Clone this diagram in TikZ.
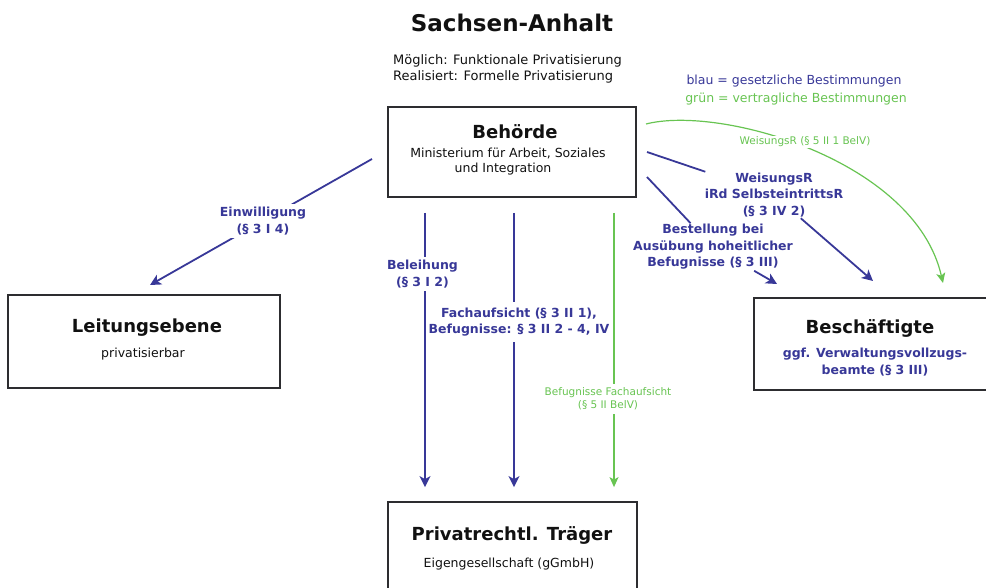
\documentclass[tikz,border=0pt]{standalone}
\usepackage{fontspec}
\setmainfont{DejaVu Sans}
\usetikzlibrary{arrows.meta}

\definecolor{lawblue}{RGB}{56,56,152}
\definecolor{contractgreen}{RGB}{104,196,82}
\definecolor{boxgray}{RGB}{45,45,48}
\definecolor{ink}{RGB}{17,17,17}

\tikzset{
  box/.style={draw=boxgray, line width=1.8pt, fill=white, inner sep=0pt},
  ttl/.style={font=\fontsize{18}{21}\selectfont\bfseries, text=ink, anchor=base, inner sep=0pt},
  sub/.style={font=\fontsize{12.5}{15}\selectfont, text=ink, anchor=base, inner sep=0pt},
  subblue/.style={font=\fontsize{12.5}{15}\selectfont\bfseries, text=lawblue, anchor=base, inner sep=0pt},
  bl/.style={draw=lawblue, line width=1.8pt},
  gr/.style={draw=contractgreen, line width=1.2pt},
  tipb/.style={-{Stealth[length=11pt,width=11pt,inset=3pt]}},
  tipg/.style={-{Stealth[length=10pt,width=9pt,inset=2.5pt]}},
  lblb/.style={text=lawblue, font=\fontsize{12.5}{16.5}\selectfont\bfseries,
    align=center, fill=white, inner xsep=1pt, inner ysep=3pt},
  lblg/.style={text=contractgreen, font=\fontsize{10.5}{13}\selectfont,
    align=center, fill=white, inner sep=1pt},
}

\begin{document}
\begin{tikzpicture}[x=1pt,y=-1pt]
\useasboundingbox (0,0) rectangle (986,588);

% heading and legend
\node[anchor=base, inner sep=0pt, text=ink, font=\fontsize{23}{28}\selectfont\bfseries] (head) at (512,32) {Sachsen-Anhalt};
\node[anchor=base west, inner sep=0pt, text=ink, font=\fontsize{13}{16}\selectfont] (poss) at (393,65) {Möglich: Funktionale Privatisierung};
\node[anchor=base west, inner sep=0pt, text=ink, font=\fontsize{13}{16}\selectfont] (real) at (393,81) {Realisiert: Formelle Privatisierung};
\node[anchor=base, inner sep=0pt, text=lawblue, font=\fontsize{12.5}{15}\selectfont] (leg1) at (794,84.5) {blau = gesetzliche Bestimmungen};
\node[anchor=base, inner sep=0pt, text=contractgreen, font=\fontsize{12.5}{15}\selectfont] (leg2) at (796,103) {grün = vertragliche Bestimmungen};

% boxes
\node[box, minimum width=248pt, minimum height=90pt] (beh) at (512,152) {};
\node[box, minimum width=272pt, minimum height=93pt] (lei) at (144,341.5) {};
\node[box, minimum width=246pt, minimum height=92pt] (bes) at (877,344) {};
\node[box, minimum width=249pt, minimum height=118pt] (pt) at (512.5,561) {};

\node[ttl] (behT) at (515,139) {Behörde};
\node[sub] (behS1) at (508,158) {Ministerium für Arbeit, Soziales};
\node[sub] (behS2) at (503,173) {und Integration};

\node[ttl] (leiT) at (147,333) {Leitungsebene};
\node[sub] (leiS) at (143,357) {privatisierbar};

\node[ttl] (besT) at (870,334) {Beschäftigte};
\node[subblue] (besS1) at (875,357.5) {ggf. Verwaltungsvollzugs-};
\node[subblue] (besS2) at (875,374.5) {beamte (§ 3 III)};

\node[ttl] (ptT) at (512,540) {Privatrechtl. Träger};
\node[sub] (ptS) at (509,567.5) {Eigengesellschaft (gGmbH)};

% free ends of the connectors
\coordinate (eA) at (372,159);
\coordinate (eB) at (150,285);
\coordinate (xa) at (425,0);
\coordinate (xb) at (514,0);
\coordinate (xc) at (614,0);
\coordinate (wA) at (647,152);
\coordinate (wB) at (873,281);
\coordinate (bA) at (647,177);
\coordinate (bB) at (777,284);
\coordinate (gA) at (646,124);
\coordinate (gB) at (943,283);

% consent of the ministry
\draw[bl,tipb] (eA) -- (eB);
\node[lblb] (lE) at (263,221) {Einwilligung\\(§ 3 I 4)};

% vertical relations to the private body
\draw[bl,tipb,shorten <=15pt,shorten >=14pt] (beh.south -| xa) -- (pt.north -| xa);
\draw[bl,tipb,shorten <=15pt,shorten >=14pt] (beh.south -| xb) -- (pt.north -| xb);
\draw[gr,tipg,shorten <=15pt,shorten >=14pt] (beh.south -| xc) -- (pt.north -| xc);
\node[lblb] (lBel) at (422.5,274) {Beleihung\\(§ 3 I 2)};
\node[lblb, inner ysep=6pt] (lFa) at (519,322) {Fachaufsicht (§ 3 II 1),\\Befugnisse: § 3 II 2 - 4, IV};
\node[lblg, inner ysep=4pt] (lBF) at (608,399) {Befugnisse Fachaufsicht\\(§ 5 II BelV)};

% relations to the employees
\node[lblb, inner sep=1pt] (lW) at (774,195) {WeisungsR\\iRd SelbsteintrittsR\\(§ 3 IV 2)};
\node[lblb, inner sep=1pt] (lB) at (713,247) {Bestellung bei\\Ausübung hoheitlicher\\Befugnisse (§ 3 III)};
\draw[bl] (wA) -- (lW);
\draw[bl,tipb] (lW) -- (wB);
\draw[bl] (bA) -- (lB);
\draw[bl,tipb] (lB) -- (bB);

\draw[gr,tipg] (gA) .. controls (720,105) and (915,160) .. (gB);
\node[lblg] (lWg) at (805,142) {WeisungsR (§ 5 II 1 BelV)};
\end{tikzpicture}
\end{document}
